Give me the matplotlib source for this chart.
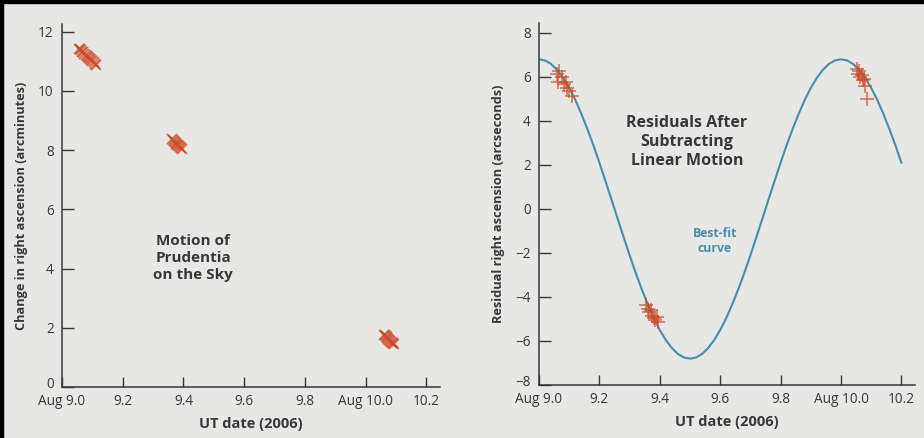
import matplotlib
matplotlib.use("Agg")
import matplotlib.pyplot as plt
from matplotlib.patches import Rectangle
from matplotlib.transforms import ScaledTranslation

# ---------------- data ----------------
# left panel: change in right ascension (arcminutes) for the three observing runs
left_t1 = [9.056, 9.060, 9.063, 9.067, 9.070, 9.074, 9.078, 9.082, 9.085, 9.089,
           9.093, 9.097, 9.100, 9.104, 9.108, 9.112]
left_ra1 = [11.43, 11.40, 11.37, 11.33, 11.30, 11.26, 11.22, 11.18, 11.15, 11.11,
            11.07, 11.03, 11.00, 10.96, 10.92, 10.89]
left_t2 = [9.362, 9.365, 9.368, 9.371, 9.374, 9.377, 9.380, 9.383, 9.386, 9.389,
           9.392, 9.395]
left_ra2 = [8.37, 8.34, 8.31, 8.28, 8.25, 8.22, 8.19, 8.16, 8.13, 8.10, 8.07, 8.04]
left_t3 = [10.060, 10.063, 10.066, 10.069, 10.072, 10.075, 10.078, 10.081, 10.084,
           10.087, 10.090, 10.093]
left_ra3 = [1.77, 1.74, 1.71, 1.68, 1.65, 1.62, 1.59, 1.56, 1.53, 1.50, 1.47, 1.44]

# right panel: residual right ascension (arcseconds)
res_t1 = [9.058, 9.062, 9.065, 9.075, 9.082, 9.088, 9.092, 9.100, 9.108]
res_v1 = [6.15, 5.75, 6.25, 6.00, 5.70, 5.75, 5.50, 5.35, 5.15]
res_t2 = [9.355, 9.360, 9.365, 9.370, 9.375, 9.380, 9.385, 9.390, 9.393]
res_v2 = [-4.35, -4.55, -4.70, -4.60, -4.85, -4.95, -5.05, -4.90, -5.15]
res_t3 = [10.052, 10.056, 10.060, 10.064, 10.068, 10.072, 10.076, 10.080, 10.085]
res_v3 = [6.35, 6.15, 6.25, 6.00, 6.10, 5.85, 5.90, 5.60, 5.00]

# best-fit curve
curve_t = [9.00, 9.02, 9.04, 9.06, 9.08, 9.10, 9.12, 9.14, 9.16, 9.18,
           9.20, 9.22, 9.24, 9.26, 9.28, 9.30, 9.32, 9.34, 9.36, 9.38,
           9.40, 9.42, 9.44, 9.46, 9.48, 9.50, 9.52, 9.54, 9.56, 9.58,
           9.60, 9.62, 9.64, 9.66, 9.68, 9.70, 9.72, 9.74, 9.76, 9.78,
           9.80, 9.82, 9.84, 9.86, 9.88, 9.90, 9.92, 9.94, 9.96, 9.98,
           10.00, 10.02, 10.04, 10.06, 10.08, 10.10, 10.12, 10.14, 10.16, 10.18,
           10.20]
curve_v = [6.80, 6.75, 6.59, 6.32, 5.96, 5.50, 4.96, 4.33, 3.64, 2.90,
           2.10, 1.27, 0.43, -0.43, -1.27, -2.10, -2.90, -3.64, -4.33, -4.96,
           -5.50, -5.96, -6.32, -6.59, -6.75, -6.80, -6.75, -6.59, -6.32, -5.96,
           -5.50, -4.96, -4.33, -3.64, -2.90, -2.10, -1.27, -0.43, 0.43, 1.27,
           2.10, 2.90, 3.64, 4.33, 4.96, 5.50, 5.96, 6.32, 6.59, 6.75,
           6.80, 6.75, 6.59, 6.32, 5.96, 5.50, 4.96, 4.33, 3.64, 2.90,
           2.10]

x_ticks = [9.0, 9.2, 9.4, 9.6, 9.8, 10.0, 10.2]
x_ticklabels = ["Aug 9.0", "9.2", "9.4", "9.6", "9.8", "Aug 10.0", "10.2"]
left_yticks = [0, 2, 4, 6, 8, 10, 12]
right_yticks = [-8, -6, -4, -2, 0, 2, 4, 6, 8]
right_yticklabels = ["\u22128", "\u22126", "\u22124", "\u22122", "0", "2", "4", "6", "8"]

# ---------------- style ----------------
BG = "#e7e7e5"
INK = "#383838"
MARK = "#cc4a2a"
CURVE = "#4a8dab"
FONT = ["Open Sans", "DejaVu Sans"]
plt.rcParams["font.family"] = FONT

fig = plt.figure(figsize=(9.24, 4.38), dpi=100, facecolor=BG)

# scanned-page black edges
fig.patches.append(Rectangle((0, 1 - 3 / 438), 1, 3 / 438, transform=fig.transFigure,
                             color="black", zorder=10))
fig.patches.append(Rectangle((0, 0), 3 / 924, 1, transform=fig.transFigure,
                             color="black", zorder=10))

axL = fig.add_axes([62 / 924, 1 - 387 / 438, 378 / 924, 363 / 438])
axR = fig.add_axes([539 / 924, 1 - 385 / 438, 376 / 924, 362 / 438])

for ax in (axL, axR):
    ax.set_facecolor("none")
    for s in ("top", "right"):
        ax.spines[s].set_visible(False)
    for s in ("left", "bottom"):
        ax.spines[s].set_color(INK)
        ax.spines[s].set_linewidth(1.1)
    ax.tick_params(axis="both", direction="in", colors=INK, labelcolor=INK,
                   width=1.0, labelsize=9.8)
    ax.tick_params(axis="y", length=8.5, pad=6)
    ax.tick_params(axis="x", length=7, pad=5)
    ax.set_xlim(9.0, 10.245)
    ax.set_xticks(x_ticks)
    ax.set_xticklabels(x_ticklabels)
    ax.set_xlabel("UT date (2006)", fontsize=10.5, fontweight="bold", color=INK, labelpad=6)

# ---- left panel ----
axL.set_ylim(0, 12.26)
axL.set_yticks(left_yticks)
for tt, rr in ((left_t1, left_ra1), (left_t2, left_ra2), (left_t3, left_ra3)):
    axL.plot(tt, rr, linestyle="none", marker="x", markersize=7.5, markeredgewidth=1.3,
             color=MARK, alpha=0.75, clip_on=False)
axL.set_ylabel("Change in right ascension (arcminutes)", fontsize=9.2, fontweight="bold",
               color=INK, labelpad=7)
axL.text(9.432, 4.36, "Motion of\nPrudentia\non the Sky", ha="center", va="center",
         fontsize=11, fontweight="bold", color=INK, linespacing=1.3)

# ---- right panel ----
axR.set_ylim(-8, 8.45)
axR.set_yticks(right_yticks)
axR.set_yticklabels(right_yticklabels)
axR.plot(curve_t, curve_v, color=CURVE, linewidth=1.5, zorder=2)
for tt, rr in ((res_t1, res_v1), (res_t2, res_v2), (res_t3, res_v3)):
    axR.plot(tt, rr, linestyle="none", marker="+", markersize=10, markeredgewidth=1.1,
             color=MARK, alpha=0.8, zorder=3)
axR.set_ylabel("Residual right ascension (arcseconds)", fontsize=9.2, fontweight="bold",
               color=INK, labelpad=7)
axR.text(9.49, 3.02, "Residuals After\nSubtracting\nLinear Motion", ha="center",
         va="center", fontsize=11.5, fontweight="bold", color=INK, linespacing=1.25)
axR.text(9.582, -1.45, "Best-fit\ncurve", ha="center", va="center", fontsize=8.8,
         fontweight="bold", color=CURVE, linespacing=1.15)

# lift the lowest y tick label slightly so it clears the first date label
lift = ScaledTranslation(0, 4 / 100, fig.dpi_scale_trans)
for ax in (axL, axR):
    lab = ax.get_yticklabels()[0]
    lab.set_transform(lab.get_transform() + lift)

fig.savefig("out.png", dpi=100, facecolor=BG)
